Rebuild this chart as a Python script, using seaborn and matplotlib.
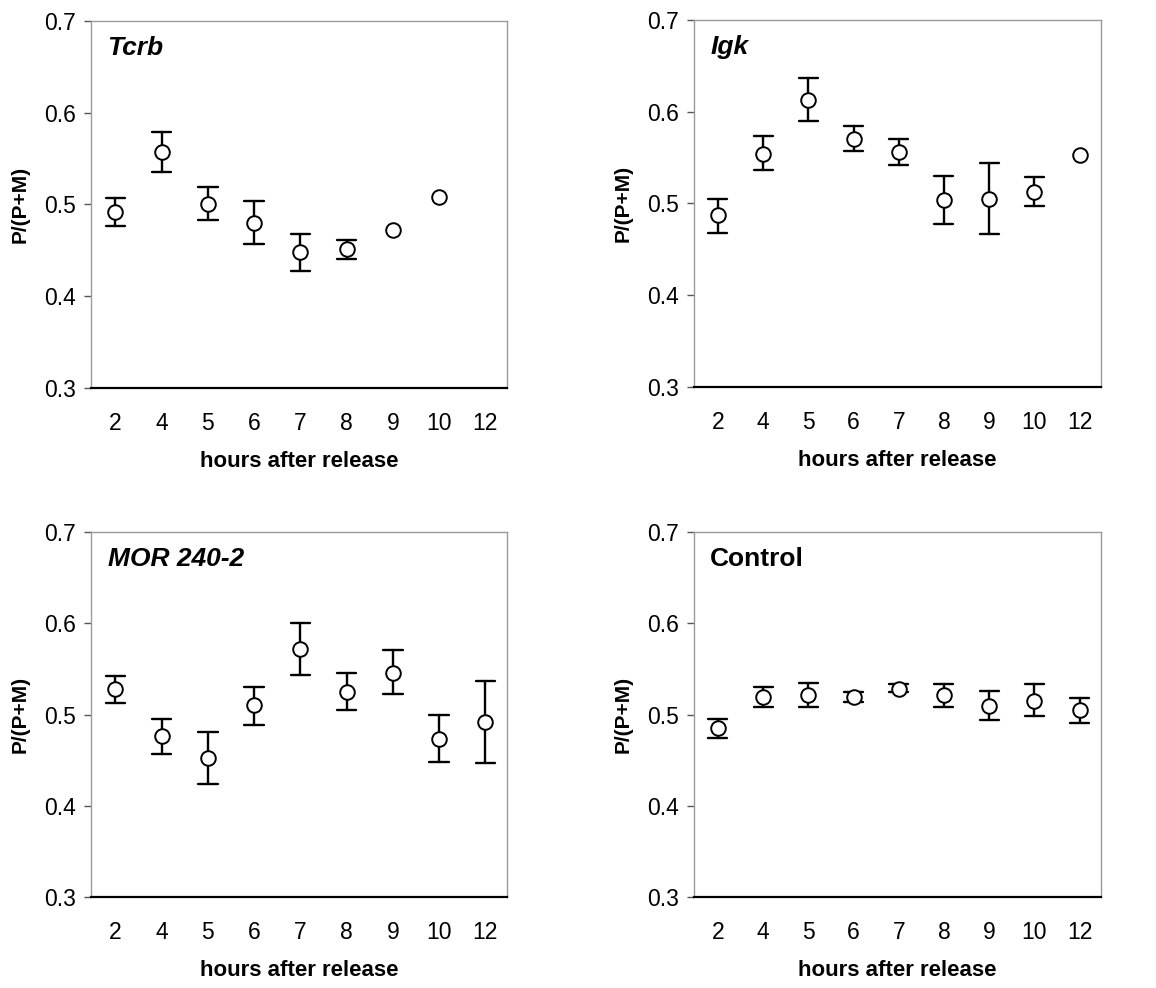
import numpy as np
import pandas as pd
import matplotlib
matplotlib.use("Agg")
import matplotlib.pyplot as plt
import seaborn as sns

# hours after release (categorical x axis)
hours = ["2", "4", "5", "6", "7", "8", "9", "10", "12"]

# values: mean, lower and upper ends of the error bars
# (None = no point / no error bar)
tcrb_mean = [0.492, 0.557, 0.501, 0.480, 0.448, 0.452, 0.472, 0.508, None]
tcrb_low = [0.476, 0.535, 0.483, 0.457, 0.427, 0.441, None, None, None]
tcrb_high = [0.507, 0.579, 0.519, 0.504, 0.468, 0.461, None, None, None]

igk_mean = [0.487, 0.554, 0.613, 0.570, 0.556, 0.504, 0.505, 0.513, 0.553]
igk_low = [0.468, 0.536, 0.590, 0.557, 0.542, 0.478, 0.467, 0.497, None]
igk_high = [0.505, 0.574, 0.637, 0.584, 0.570, 0.530, 0.544, 0.529, None]

mor_mean = [0.528, 0.476, 0.452, 0.510, 0.572, 0.525, 0.546, 0.473, 0.492]
mor_low = [0.513, 0.457, 0.424, 0.489, 0.543, 0.505, 0.522, 0.448, 0.447]
mor_high = [0.542, 0.495, 0.481, 0.530, 0.600, 0.546, 0.571, 0.499, 0.537]

ctrl_mean = [0.485, 0.519, 0.521, 0.519, 0.528, 0.521, 0.509, 0.515, 0.505]
ctrl_low = [0.474, 0.508, 0.508, 0.514, 0.525, 0.508, 0.494, 0.498, 0.491]
ctrl_high = [0.495, 0.530, 0.534, 0.525, 0.533, 0.533, 0.526, 0.533, 0.518]

panels = [
    ("Tcrb", "italic", tcrb_mean, tcrb_low, tcrb_high),
    ("Igk", "italic", igk_mean, igk_low, igk_high),
    ("MOR 240-2", "italic", mor_mean, mor_low, mor_high),
    ("Control", "normal", ctrl_mean, ctrl_low, ctrl_high),
]


def long_table(mean, low, high):
    # one row per value; median of [low, mean, high] = mean, min/max = bar ends
    rows = []
    for h, m, lo, hi in zip(hours, mean, low, high):
        if m is None:
            continue
        rows.append((h, m))
        if lo is not None:
            rows.append((h, lo))
            rows.append((h, hi))
    return pd.DataFrame(rows, columns=["hours", "ratio"])


def bar_ends(x):
    if len(x) < 2:
        return (np.nan, np.nan)
    return (x.min(), x.max())


sns.set_style("white", {"text.color": "black", "axes.labelcolor": "black",
                        "xtick.color": "black", "ytick.color": "black"})
plt.rcParams["font.family"] = ["Liberation Sans", "DejaVu Sans"]

fig = plt.figure(figsize=(11.56, 9.88), dpi=100)
boxes = [
    [0.0787, 0.6073, 0.360, 0.3715],
    [0.6003, 0.6083, 0.352, 0.3715],
    [0.0787, 0.0921, 0.360, 0.3694],
    [0.6003, 0.0921, 0.352, 0.3694],
]

for box, (name, style, mean, low, high) in zip(boxes, panels):
    ax = fig.add_axes(box)
    df = long_table(mean, low, high)
    sns.pointplot(data=df, x="hours", y="ratio", order=hours,
                  estimator="median", errorbar=bar_ends,
                  linestyle="none", color="black", markers="o",
                  markersize=10.5, markerfacecolor="white",
                  markeredgecolor="black", markeredgewidth=1.4,
                  capsize=0.42, err_kws={"linewidth": 1.7, "color": "black"},
                  ax=ax)
    for ln in ax.lines:
        if ln.get_marker() == "o":
            ln.set_zorder(5)

    ax.set_ylim(0.3, 0.7)
    ax.set_xlim(-0.53, 8.47)
    ax.set_yticks([0.3, 0.4, 0.5, 0.6, 0.7])
    ax.set_yticklabels(["0.3", "0.4", "0.5", "0.6", "0.7"])
    ax.tick_params(axis="y", left=True, length=5, width=1, color="#555555",
                   labelsize=16.5, pad=6)
    ax.tick_params(axis="x", bottom=False, length=0, labelsize=16.5, pad=17)

    for side in ["top", "right", "left"]:
        ax.spines[side].set_color("#9a9a9a")
        ax.spines[side].set_linewidth(1.0)
    ax.spines["bottom"].set_color("black")
    ax.spines["bottom"].set_linewidth(1.6)

    ax.set_xlabel("hours after release", fontsize=16, fontweight="bold",
                  labelpad=12)
    ax.set_ylabel("P/(P+M)", fontsize=15, fontweight="bold", labelpad=10)
    ax.text(0.04, 0.96, name, transform=ax.transAxes, fontsize=19,
            fontweight="bold", fontstyle=style, va="top", ha="left")

fig.savefig("out.png", dpi=100)
